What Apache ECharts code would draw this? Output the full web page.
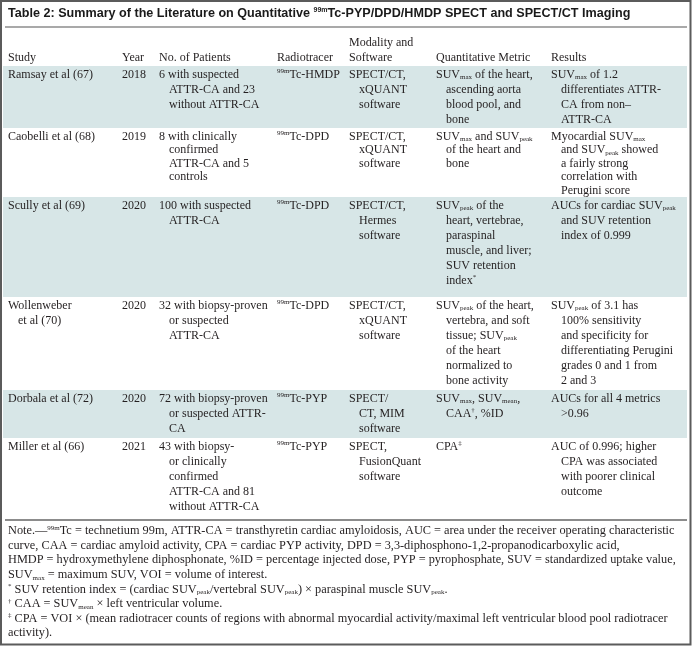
<!DOCTYPE html>
<html><head><meta charset="utf-8">
<script src="https://cdn.jsdelivr.net/npm/echarts@6/dist/echarts.min.js"></script>
<style>html,body{margin:0;padding:0;background:#fff}#c{width:692px;height:646px}</style>
</head><body><div id="c"></div>
<script>
// ---------- DATA ----------
const titleText = 'Table 2: Summary of the Literature on Quantitative {sup|99m}Tc-PYP/DPD/HMDP SPECT and SPECT/CT Imaging';
const headers = ['Study', 'Year', 'No. of Patients', 'Radiotracer', 'Modality and\nSoftware', 'Quantitative Metric', 'Results'];
const studies = ['Ramsay et al (67)', 'Caobelli et al (68)', 'Scully et al (69)', 'Wollenweber\net al (70)', 'Dorbala et al (72)', 'Miller et al (66)'];
const years = ['2018', '2019', '2020', '2020', '2020', '2021'];
const patients = [
  '6 with suspected\nATTR-CA and 23\nwithout ATTR-CA',
  '8 with clinically\nconfirmed\nATTR-CA and 5\ncontrols',
  '100 with suspected\nATTR-CA',
  '32 with biopsy-proven\nor suspected\nATTR-CA',
  '72 with biopsy-proven\nor suspected ATTR-\nCA',
  '43 with biopsy-\nor clinically\nconfirmed\nATTR-CA and 81\nwithout ATTR-CA'
];
const tracers = ['{sup|99m}Tc-HMDP', '{sup|99m}Tc-DPD', '{sup|99m}Tc-DPD', '{sup|99m}Tc-DPD', '{sup|99m}Tc-PYP', '{sup|99m}Tc-PYP'];
const modalities = [
  'SPECT/CT,\nxQUANT\nsoftware',
  'SPECT/CT,\nxQUANT\nsoftware',
  'SPECT/CT,\nHermes\nsoftware',
  'SPECT/CT,\nxQUANT\nsoftware',
  'SPECT/\nCT, MIM\nsoftware',
  'SPECT,\nFusionQuant\nsoftware'
];
const metrics = [
  'SUV{sub|max} of the heart,\nascending aorta\nblood pool, and\nbone',
  'SUV{sub|max} and SUV{sub|peak}\nof the heart and\nbone',
  'SUV{sub|peak} of the\nheart, vertebrae,\nparaspinal\nmuscle, and liver;\nSUV retention\nindex{sup|*}',
  'SUV{sub|peak} of the heart,\nvertebra, and soft\ntissue; SUV{sub|peak}\nof the heart\nnormalized to\nbone activity',
  'SUV{sub|max}, SUV{sub|mean},\nCAA{sup|†}, %ID',
  'CPA{sup|‡}'
];
const results = [
  'SUV{sub|max} of 1.2\ndifferentiates ATTR-\nCA from non–\nATTR-CA',
  'Myocardial SUV{sub|max}\nand SUV{sub|peak} showed\na fairly strong\ncorrelation with\nPerugini score',
  'AUCs for cardiac SUV{sub|peak}\nand SUV retention\nindex of 0.999',
  'SUV{sub|peak} of 3.1 has\n100% sensitivity\nand specificity for\ndifferentiating Perugini\ngrades 0 and 1 from\n2 and 3',
  'AUCs for all 4 metrics\n>0.96',
  'AUC of 0.996; higher\nCPA was associated\nwith poorer clinical\noutcome'
];
const notes = [
  'Note.—{sup|99m}Tc = technetium 99m, ATTR-CA = transthyretin cardiac amyloidosis, AUC = area under the receiver operating characteristic',
  'curve, CAA = cardiac amyloid activity, CPA = cardiac PYP activity, DPD = 3,3-diphosphono-1,2-propanodicarboxylic acid,',
  'HMDP = hydroxymethylene diphosphonate, %ID = percentage injected dose, PYP = pyrophosphate, SUV = standardized uptake value,',
  'SUV{sub|max} = maximum SUV, VOI = volume of interest.',
  '{sup|*} SUV retention index = (cardiac SUV{sub|peak}/vertebral SUV{sub|peak}) × paraspinal muscle SUV{sub|peak}.',
  '{sup|†} CAA = SUV{sub|mean} × left ventricular volume.',
  '{sup|‡} CPA = VOI × (mean radiotracer counts of regions with abnormal myocardial activity/maximal left ventricular blood pool radiotracer',
  'activity).'
];

// ---------- LAYOUT / STYLE ----------
const W = 692, H = 646;
const colX = [8, 122, 159, 277, 349, 436, 551];
const rowTops = [66, 128, 197, 297, 390, 438, 519];
const rowLineH = [15, 13.6, 15, 15, 15, 15];
const firstOff = 8.5, indent = 10;
const headerY = [42.5, 58];
const titleY = 13.5, titleRuleY = 27, bottomRuleY = 520;
const noteY0 = 531, noteLineH = 14.6, noteFont = 12.3;
const shadeX0 = 3, shadeX1 = 687;
const SERIF = '"Liberation Serif", "DejaVu Serif", serif';
const INK = '#231f20', SHADE = '#d7e6e7';

function rich(fs) {
  const s = Math.round(fs * 0.58);
  return {
    sub: { fontSize: s, fontFamily: SERIF, fill: INK, lineHeight: 8, verticalAlign: 'bottom' },
    sup: { fontSize: s, fontFamily: SERIF, fill: INK, lineHeight: 8, verticalAlign: 'top' }
  };
}
function textEl(api, str, x, y, fs, extra) {
  const p = api.coord([x, y]);
  return {
    type: 'text',
    style: Object.assign({
      text: str, x: p[0], y: p[1], fill: INK,
      font: fs + 'px ' + SERIF, lineHeight: 13,
      verticalAlign: 'middle', align: 'left', rich: rich(fs)
    }, extra || {})
  };
}
const columns = [studies, years, patients, tracers, modalities, metrics, results];

function renderRow(params, api) {
  const i = params.dataIndex;
  const tl = api.coord([shadeX0, rowTops[i]]);
  const br = api.coord([shadeX1, rowTops[i + 1]]);
  const children = [];
  if (i % 2 === 0) {
    children.push({ type: 'rect', shape: { x: tl[0], y: tl[1], width: br[0] - tl[0], height: br[1] - tl[1] }, style: { fill: SHADE } });
  }
  columns.forEach((arr, c) => {
    arr[i].split('\n').forEach((ln, k) => {
      children.push(textEl(api, ln, colX[c] + (k ? indent : 0), rowTops[i] + firstOff + k * rowLineH[i], 12));
    });
  });
  return { type: 'group', children };
}

function renderFrame(params, api) {
  const children = [];
  const a = api.coord([1, 1]), b = api.coord([W - 1.5, H - 1.5]);
  children.push({ type: 'rect', shape: { x: a[0], y: a[1], width: b[0] - a[0], height: b[1] - a[1] }, style: { fill: 'none', stroke: '#5b5b5b', lineWidth: 2 } });
  children.push(textEl(api, titleText, 8, titleY, 12.6, {
    font: 'bold 12.6px "Liberation Sans Narrow", "Liberation Sans", sans-serif', fill: '#1a1a1a',
    rich: { sup: { fontSize: 7, fontWeight: 'bold', fontFamily: '"Liberation Sans", sans-serif', fill: '#1a1a1a', lineHeight: 8, verticalAlign: 'top' } }
  }));
  const r1 = api.coord([5, titleRuleY]), r2 = api.coord([687, titleRuleY]);
  children.push({ type: 'line', shape: { x1: r1[0], y1: r1[1], x2: r2[0], y2: r2[1] }, style: { stroke: '#8c8c8c', lineWidth: 1.5 } });
  headers.forEach((h, c) => {
    const lines = h.split('\n');
    lines.forEach((ln, k) => {
      const y = headerY[headerY.length - lines.length + k];
      children.push(textEl(api, ln, colX[c], y, 12));
    });
  });
  const b1 = api.coord([5, bottomRuleY]), b2 = api.coord([687, bottomRuleY]);
  children.push({ type: 'line', shape: { x1: b1[0], y1: b1[1], x2: b2[0], y2: b2[1] }, style: { stroke: '#8c8c8c', lineWidth: 2 } });
  notes.forEach((n, k) => {
    children.push(textEl(api, n, 8, noteY0 + k * noteLineH, noteFont));
  });
  return { type: 'group', children };
}

const chart = echarts.init(document.getElementById('c'), null, { renderer: 'canvas' });
chart.setOption({
  animation: false,
  grid: { left: 0, right: 0, top: 0, bottom: 0 },
  xAxis: { type: 'value', min: 0, max: W, show: false },
  yAxis: { type: 'value', min: 0, max: H, inverse: true, show: false },
  series: [
    { type: 'custom', renderItem: renderFrame, data: [[0, 0]], silent: true, clip: false },
    { type: 'custom', renderItem: renderRow, data: studies.map((s, i) => [0, i]), silent: true, clip: false, z: 1 }
  ]
});
</script>
</body></html>
